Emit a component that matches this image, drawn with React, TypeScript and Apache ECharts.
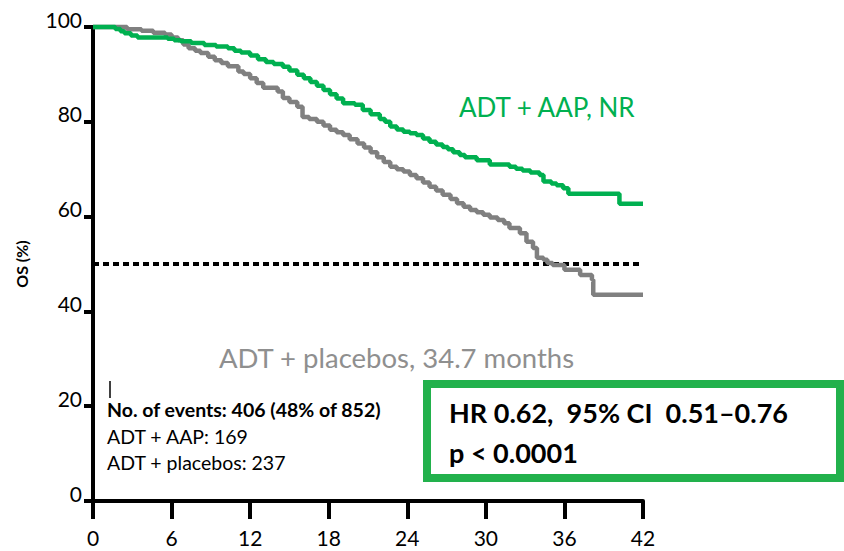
import React, { useEffect, useRef } from "react";
import * as echarts from "echarts";

const xTicks = [0, 6, 12, 18, 24, 30, 36, 42];
const yTicks = [0, 20, 40, 60, 80, 100];

const aapCurve: [number, number][] = [
  [0, 100], [1.3, 100], [1.7, 99.6], [2.1, 99.1], [2.4, 98.7], [2.9, 98.2], [3.4, 97.8],
  [5.7, 97.5], [6.2, 97.2], [6.7, 97.0], [7.5, 96.6], [8.5, 96.2], [9.4, 95.9], [10.3, 95.5],
  [10.8, 95.0], [11.3, 94.6], [12.0, 94.0], [12.6, 93.2], [13.2, 92.6], [13.8, 92.2],
  [14.5, 91.6], [15.0, 90.8], [15.6, 89.9], [16.1, 89.2], [16.6, 88.4], [17.1, 87.6],
  [17.6, 86.7], [18.1, 85.8], [18.6, 84.9], [19.1, 83.9], [20.0, 83.6], [20.6, 82.5],
  [21.2, 81.6], [21.9, 80.6], [22.3, 80.0], [22.7, 79.0], [23.2, 78.4], [23.7, 77.9],
  [24.2, 77.6], [24.7, 77.2], [25.2, 76.5], [25.7, 75.8], [26.2, 75.2], [26.7, 74.7],
  [27.1, 74.2], [27.5, 73.6], [28.0, 73.0], [28.4, 72.5], [29.3, 71.9], [30.3, 71.0],
  [31.8, 70.5], [32.3, 70.1], [32.8, 69.7], [33.4, 69.3], [34.1, 68.8], [34.4, 67.4],
  [35.0, 67.0], [35.4, 66.6], [35.9, 66.0], [36.3, 64.8], [40.1, 64.8], [40.2, 62.7], [42, 62.7],
];

const placeboCurve: [number, number][] = [
  [0, 100], [2.3, 100], [2.6, 99.5], [3.7, 99.2], [4.6, 98.8], [5.5, 98.4], [6.0, 97.8],
  [6.5, 97.2], [6.9, 96.3], [7.3, 95.5], [7.8, 95.0], [8.2, 94.5], [8.8, 93.7], [9.3, 93.0],
  [9.8, 92.4], [10.3, 91.7], [11.1, 90.6], [11.5, 90.1], [12.0, 89.2], [12.5, 88.2],
  [13.0, 87.2], [14.1, 86.4], [14.5, 85.0], [15.0, 84.2], [15.6, 83.2], [16.0, 81.0],
  [16.5, 80.6], [17.1, 80.0], [17.6, 79.2], [18.1, 78.3], [18.6, 77.8], [19.1, 77.2],
  [19.6, 76.3], [20.2, 75.4], [20.7, 74.6], [21.2, 73.6], [21.7, 72.5], [22.2, 71.5],
  [22.7, 70.5], [23.2, 70.0], [23.7, 69.5], [24.2, 68.8], [24.7, 68.1], [25.2, 67.2],
  [25.7, 66.3], [26.2, 65.5], [26.7, 64.6], [27.3, 63.7], [27.8, 62.8], [28.3, 62.1],
  [28.8, 61.4], [29.3, 60.9], [29.8, 60.4], [30.3, 59.8], [30.9, 59.3], [31.4, 58.6],
  [31.8, 57.6], [32.6, 56.5], [33.1, 54.7], [33.6, 53.4], [33.9, 51.3], [34.4, 50.9],
  [34.7, 50.2], [35.1, 49.8], [36.0, 48.8], [37.2, 47.7], [38.1, 46.7], [38.2, 43.5], [42, 43.5],
];

const medianLine: [number, number][] = [
  [0, 50],
  [42, 50],
];

const seriesLabels = ["ADT + AAP, NR", "ADT + placebos, 34.7 months"];
const eventLines = ["No. of events: 406 (48% of 852)", "ADT + AAP: 169", "ADT + placebos: 237"];
const statLines = ["HR 0.62,  95% CI  0.51\u20130.76", "p < 0.0001"];

const GREEN = "#00B050";
const GRAY = "#808080";
const FONT = "Lato, 'Open Sans', sans-serif";

export default function App() {
  const ref = useRef<HTMLDivElement>(null);
  useEffect(() => {
    if (!ref.current) return;
    const chart = echarts.init(ref.current, null, { renderer: "svg" });
    chart.setOption({
      animation: false,
      textStyle: { fontFamily: FONT },
      grid: { left: 93, right: 201, top: 27, bottom: 50, containLabel: false },
      xAxis: {
        type: "value",
        min: 0,
        max: 42,
        interval: 6,
        splitLine: { show: false },
        axisLine: { show: true, onZero: false, lineStyle: { color: "#000", width: 4 } },
        axisTick: { show: true, length: 18, lineStyle: { color: "#000", width: 4 } },
        axisLabel: {
          color: "#000",
          fontSize: 21,
          fontFamily: FONT,
          margin: 26,
          formatter: (v: number) => (xTicks.includes(v) ? String(v) : ""),
        },
      },
      yAxis: {
        type: "value",
        min: 0,
        max: 100,
        interval: 20,
        name: "OS (%)",
        nameLocation: "middle",
        nameRotate: 90,
        nameGap: 64,
        nameTextStyle: { color: "#000", fontSize: 16, fontWeight: "bold", fontFamily: FONT, padding: [0, 0, 0, 0] },
        splitLine: { show: false },
        axisLine: { show: true, onZero: false, lineStyle: { color: "#000", width: 4 } },
        axisTick: { show: true, length: 9, lineStyle: { color: "#000", width: 4 } },
        axisLabel: {
          color: "#000",
          fontSize: 21,
          fontFamily: FONT,
          margin: 11,
          verticalAlign: "bottom",
          lineHeight: 16,
          formatter: (v: number) => (yTicks.includes(v) ? String(v) : ""),
        },
      },
      series: [
        {
          type: "line",
          data: medianLine,
          showSymbol: false,
          symbol: "none",
          lineStyle: { color: "#000", width: 4, type: [6, 4] },
          z: 1,
          clip: false,
        },
        {
          type: "line",
          name: seriesLabels[1],
          data: placeboCurve,
          step: "end",
          showSymbol: false,
          symbol: "none",
          lineStyle: { color: GRAY, width: 4.5 },
          z: 2,
          clip: false,
        },
        {
          type: "line",
          name: seriesLabels[0],
          data: aapCurve,
          step: "end",
          showSymbol: false,
          symbol: "none",
          lineStyle: { color: GREEN, width: 4.5 },
          z: 3,
          clip: false,
        },
      ],
      graphic: [
        {
          type: "text",
          x: 459,
          y: 107,
          style: { text: seriesLabels[0], fill: GREEN, fontSize: 26, fontFamily: FONT, verticalAlign: "middle" },
        },
        {
          type: "text",
          x: 219,
          y: 357,
          style: { text: seriesLabels[1], fill: "#8f8f8f", fontSize: 27.5, fontFamily: FONT, verticalAlign: "middle" },
        },
        {
          type: "line",
          shape: { x1: 110, y1: 381, x2: 110, y2: 398 },
          style: { stroke: "#000", lineWidth: 1.5 },
        },
        {
          type: "text",
          x: 107,
          y: 409,
          style: { text: eventLines[0], fill: "#000", fontSize: 19.5, fontWeight: "bold", fontFamily: FONT, verticalAlign: "middle" },
        },
        {
          type: "text",
          x: 107,
          y: 436,
          style: { text: eventLines[1], fill: "#000", fontSize: 19.5, fontFamily: FONT, verticalAlign: "middle" },
        },
        {
          type: "text",
          x: 107,
          y: 462,
          style: { text: eventLines[2], fill: "#000", fontSize: 19.5, fontFamily: FONT, verticalAlign: "middle" },
        },
        {
          type: "rect",
          shape: { x: 427, y: 384, width: 413, height: 94 },
          style: { fill: "#fff", stroke: "#22B14C", lineWidth: 8 },
          z: 10,
        },
        {
          type: "text",
          x: 449,
          y: 412,
          z: 11,
          style: { text: statLines[0], fill: "#000", fontSize: 27, fontWeight: "bold", fontFamily: FONT, verticalAlign: "middle" },
        },
        {
          type: "text",
          x: 449,
          y: 452,
          z: 11,
          style: { text: statLines[1], fill: "#000", fontSize: 27, fontWeight: "bold", fontFamily: FONT, verticalAlign: "middle" },
        },
      ],
    });
    return () => chart.dispose();
  }, []);
  return <div ref={ref} style={{ position: "absolute", left: 0, top: 0, width: 844, height: 551 }} />;
}
